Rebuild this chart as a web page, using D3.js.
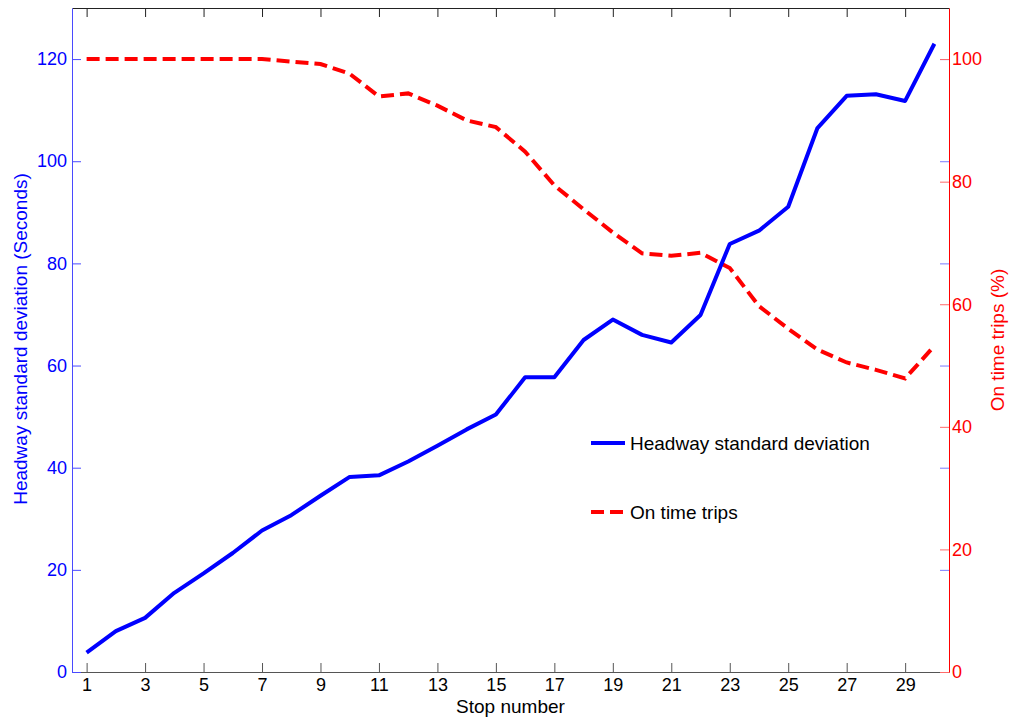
<!DOCTYPE html>
<html>
<head>
<meta charset="utf-8">
<script src="https://cdn.jsdelivr.net/npm/d3@7"></script>
<style>
  body { margin: 0; background: #fff; }
  svg text { font-family: "Liberation Sans", Arial, sans-serif; }
</style>
</head>
<body>
<svg id="chart" width="1009" height="719"></svg>
<script>
// data
const stops = d3.range(1, 31);
const headwaySD = [3.8, 8.0, 10.6, 15.5, 19.3, 23.3, 27.7, 30.7, 34.5, 38.2,
  38.5, 41.2, 44.3, 47.5, 50.4, 57.7, 57.7, 65.0, 69.0, 66.0,
  64.5, 69.9, 83.8, 86.4, 91.1, 106.5, 112.8, 113.1, 111.8, 123.0];
const onTime = [100, 100, 100, 100, 100, 100, 100, 99.6, 99.2, 97.6,
  93.9, 94.4, 92.4, 90.0, 88.9, 84.9, 79.4, 75.5, 71.7, 68.3,
  67.9, 68.4, 65.9, 59.7, 56.0, 52.6, 50.5, 49.3, 47.9, 53.2];
const xTicks = d3.range(1, 30, 2);
const leftTicks = [0, 20, 40, 60, 80, 100, 120];
const rightTicks = [0, 20, 40, 60, 80, 100];

// plot box
const plot = { left: 72, right: 949, top: 8, bottom: 672 };
const svg = d3.select("#chart");

const x = d3.scaleLinear().domain([0.5, 30.5]).range([plot.left, plot.right]);
const yL = d3.scaleLinear().domain([0, 130]).range([plot.bottom, plot.top]);
const yR = d3.scaleLinear().domain([0, 130 * 100 / 120]).range([plot.bottom, plot.top]);

const BLUE = "#0000ff", RED = "#ff0000";
const fs = 18;

// top axis (ticks only)
svg.append("g")
  .attr("transform", `translate(0,${plot.top})`)
  .call(d3.axisTop(x).tickValues(xTicks).tickSize(-9).tickFormat("").tickSizeOuter(0))
  .call(g => g.selectAll("path, line").attr("stroke", "#222"));

// bottom axis
svg.append("g")
  .attr("transform", `translate(0,${plot.bottom})`)
  .call(d3.axisBottom(x).tickValues(xTicks).tickSize(-9).tickPadding(6).tickSizeOuter(0))
  .call(g => g.selectAll("path, line").attr("stroke", "#555"))
  .call(g => g.selectAll("text").attr("fill", "#000").style("font-size", fs + "px"));

// left axis
svg.append("g")
  .attr("transform", `translate(${plot.left},0)`)
  .call(d3.axisLeft(yL).tickValues(leftTicks).tickSize(-9).tickPadding(5).tickSizeOuter(0))
  .call(g => g.selectAll("path, line").attr("stroke", "#4a4aff"))
  .call(g => g.selectAll("text").attr("fill", BLUE).style("font-size", fs + "px"));

// left ticks mirrored on right side
svg.append("g")
  .attr("transform", `translate(${plot.right},0)`)
  .call(d3.axisRight(yL).tickValues(leftTicks).tickSize(-9).tickFormat("").tickSizeOuter(0))
  .call(g => g.select("path").remove())
  .call(g => g.selectAll("line").attr("stroke", "#7a7aff"));

// right axis
svg.append("g")
  .attr("transform", `translate(${plot.right},0)`)
  .call(d3.axisRight(yR).tickValues(rightTicks).tickSize(-9).tickPadding(3).tickSizeOuter(0))
  .call(g => g.select("path").attr("stroke", RED))
  .call(g => g.selectAll("line").attr("stroke", "#ff6a6a"))
  .call(g => g.selectAll("text").attr("fill", RED).style("font-size", fs + "px"));

// lines
const blueLine = d3.line().x((d, i) => x(stops[i])).y(d => yL(d));
const redLine = d3.line().x((d, i) => x(stops[i])).y(d => yR(d));

svg.append("path")
  .datum(onTime)
  .attr("d", redLine)
  .attr("fill", "none")
  .attr("stroke", RED)
  .attr("stroke-width", 4)
  .attr("stroke-dasharray", "13,6");

svg.append("path")
  .datum(headwaySD)
  .attr("d", blueLine)
  .attr("fill", "none")
  .attr("stroke", BLUE)
  .attr("stroke-width", 4)
  .attr("stroke-linejoin", "round");

// axis titles
svg.append("text")
  .attr("x", (plot.left + plot.right) / 2)
  .attr("y", 713)
  .attr("text-anchor", "middle")
  .style("font-size", "19px")
  .text("Stop number");

svg.append("text")
  .attr("transform", "translate(27,339) rotate(-90)")
  .attr("text-anchor", "middle")
  .attr("fill", BLUE)
  .style("font-size", "19px")
  .text("Headway standard deviation (Seconds)");

svg.append("text")
  .attr("transform", "translate(1004,340) rotate(-90)")
  .attr("text-anchor", "middle")
  .attr("fill", RED)
  .style("font-size", "19px")
  .text("On time trips (%)");

// legend
const legend = [
  { label: "Headway standard deviation", color: BLUE, dash: null, y: 443 },
  { label: "On time trips", color: RED, dash: "13,6", y: 512 }
];
const lg = svg.append("g");
legend.forEach(d => {
  lg.append("line")
    .attr("x1", 591).attr("x2", 625)
    .attr("y1", d.y).attr("y2", d.y)
    .attr("stroke", d.color)
    .attr("stroke-width", 4)
    .attr("stroke-dasharray", d.dash);
  lg.append("text")
    .attr("x", 630)
    .attr("y", d.y + 6.5)
    .style("font-size", "19px")
    .text(d.label);
});
</script>
</body>
</html>
